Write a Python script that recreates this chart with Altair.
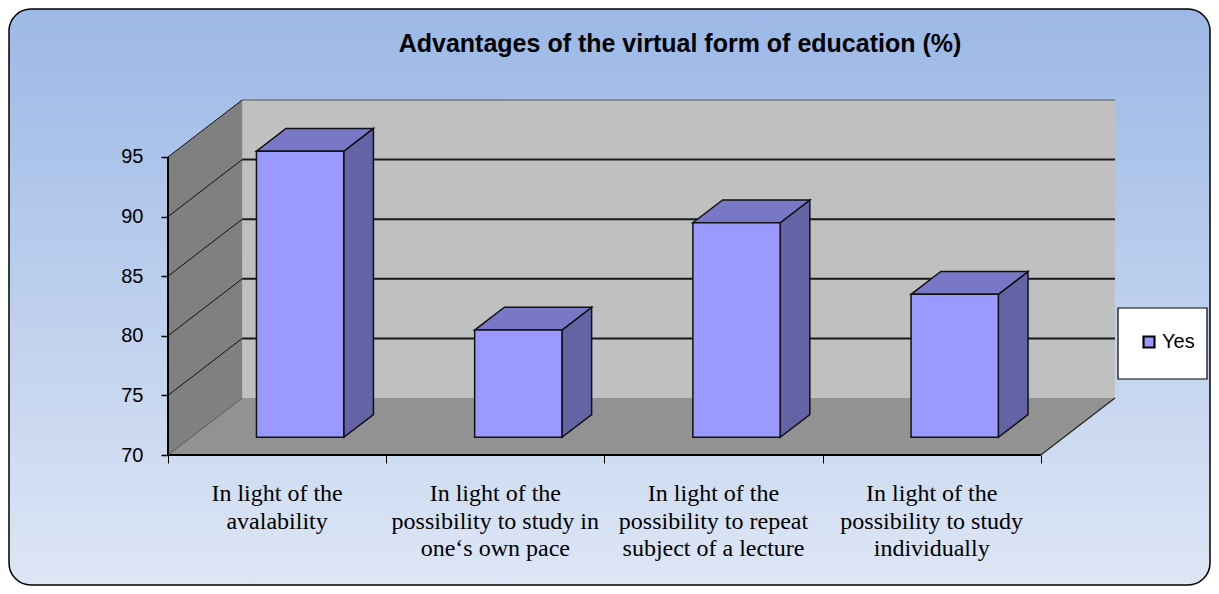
import altair as alt
import pandas as pd

# ---- data ----
TITLE = "Advantages of the virtual form of education (%)"
categories = [
    "In light of the\navalability",
    "In light of the\npossibility to study in\none\u2018s own pace",
    "In light of the\npossibility to repeat\nsubject of a lecture",
    "In light of the\npossibility to study\nindividually",
]
values = [94, 79, 88, 82]
series_name = "Yes"
y_ticks = [70, 75, 80, 85, 90, 95]

# ---- 3D styling constants ----
BASE, TOP = 70, 95
DX, DY = 0.34, 4.78       # depth offset in x-units / y-units
F, B = 0.31, 0.71         # bar front / back depth fraction
HALF = 0.2                # half bar width (category units)
N = len(categories)

W, H = 947, 355
xs = alt.Scale(domain=[0, N + DX], nice=False, zero=False)
ys = alt.Scale(domain=[BASE, TOP + DY], nice=False, zero=False)
xaxis = alt.Axis(values=list(range(N + 1)), labels=False, domain=False, grid=False,
                 ticks=True, tickSize=8, tickColor="black", tickWidth=1, title=None, zindex=2)
yaxis = alt.Axis(values=y_ticks, domain=False, grid=False, tickSize=7, tickColor="black",
                 tickWidth=1.5, labelFont="Liberation Sans", labelFontSize=20,
                 labelColor="black", labelPadding=18, title=None, zindex=2)


def X(f):
    return alt.X(f, type="quantitative", scale=xs, axis=xaxis)


def Y(f):
    return alt.Y(f, type="quantitative", scale=ys, axis=yaxis)


# ---- derived geometry tables ----
front_rows, top_rows, side_rows, lab_rows = [], [], [], []
for i, (c, v) in enumerate(zip(categories, values)):
    cx = i + 0.5
    x1f, x2f = cx - HALF + F * DX, cx + HALF + F * DX
    x1b, x2b = cx - HALF + B * DX, cx + HALF + B * DX
    fy, by = F * DY, B * DY
    front_rows.append(dict(bar=i, x=x1f, x2=x2f, y=BASE + fy, y2=v + fy, series=series_name))
    top_rows += [dict(bar=i, y=v + fy, x=x1f, x2=x2f), dict(bar=i, y=v + by, x=x1b, x2=x2b)]
    side_rows += [dict(bar=i, x=x2f, y=v + fy, y2=BASE + fy), dict(bar=i, x=x2b, y=v + by, y2=BASE + by)]
    lab_rows.append(dict(x=cx, y=BASE, label=c))

front_df = pd.DataFrame(front_rows)
top_df = pd.DataFrame(top_rows)
side_df = pd.DataFrame(side_rows)
lab_df = pd.DataFrame(lab_rows)

back_df = pd.DataFrame({"x": [DX], "x2": [N + DX], "y": [BASE + DY], "y2": [TOP + DY]})
floor_df = pd.DataFrame({"y": [BASE, BASE + DY], "x": [0, DX], "x2": [N, N + DX]})
left_df = pd.DataFrame({"x": [0, DX], "y": [BASE, BASE + DY], "y2": [TOP, TOP + DY]})
grid_back = pd.DataFrame({"v": y_ticks[1:-1]})
grid_back["y"] = grid_back["v"] + DY
grid_back["x"] = DX
grid_back["x2"] = N + DX
grid_left = pd.DataFrame({"v": y_ticks[1:]})
grid_left["y2"] = grid_left["v"] + DY
grid_left["x"] = 0
grid_left["x2"] = DX
edges = pd.DataFrame([
    dict(x=0, x2=N, y=BASE, y2=BASE, w=2.0, c="#000000"),
    dict(x=N, x2=N + DX, y=BASE, y2=BASE + DY, w=1.2, c="#222222"),
    dict(x=0, x2=0, y=BASE, y2=TOP, w=2.0, c="#000000"),
    dict(x=DX, x2=N + DX, y=TOP + DY, y2=TOP + DY, w=1.0, c="#555555"),
    dict(x=0, x2=DX, y=BASE, y2=BASE + DY, w=1.0, c="#555555"),
])

# ---- background frame ----
bg = alt.Chart(pd.DataFrame({"a": [0]})).mark_rect(
    cornerRadius=22, stroke="black", strokeWidth=1.5,
    color=alt.Gradient(gradient="linear", x1=0, x2=0, y1=0, y2=1,
                       stops=[alt.GradientStop(color="#9CB8E6", offset=0),
                              alt.GradientStop(color="#DDE6F5", offset=1)]),
).encode(x=alt.value(-159), x2=alt.value(W + 95), y=alt.value(-91), y2=alt.value(H + 130))

legend_box = alt.Chart(pd.DataFrame({"a": [0]})).mark_rect(
    fill="white", stroke="black", strokeWidth=1.2).encode(
    x=alt.value(950), x2=alt.value(1039), y=alt.value(208), y2=alt.value(279))

back = alt.Chart(back_df).mark_rect(color="#C0C0C0").encode(
    x=X("x"), x2="x2", y=Y("y"), y2="y2")
floor = alt.Chart(floor_df).mark_area(orient="horizontal", color="#929292").encode(
    y=Y("y"), x=X("x"), x2="x2")
left = alt.Chart(left_df).mark_area(orient="vertical", color="#808080").encode(
    x=X("x"), y=Y("y"), y2="y2")
gb = alt.Chart(grid_back).mark_rule(color="#1A1A1A", strokeWidth=2).encode(
    x=X("x"), x2="x2", y=Y("y"))
gl = alt.Chart(grid_left).mark_rule(color="#111111", strokeWidth=1).encode(
    x=X("x"), x2="x2", y=Y("v"), y2="y2")
ed = alt.Chart(edges).mark_rule().encode(
    x=X("x"), x2="x2", y=Y("y"), y2="y2",
    strokeWidth=alt.StrokeWidth("w:Q", scale=None, legend=None),
    stroke=alt.Stroke("c:N", scale=None, legend=None))

side = alt.Chart(side_df).mark_area(orient="vertical", color="#6363A5", stroke="#111111",
                                    strokeWidth=1.5).encode(
    x=X("x"), y=Y("y"), y2="y2", detail="bar:N")
top = alt.Chart(top_df).mark_area(orient="horizontal", color="#7878C6", stroke="#111111",
                                  strokeWidth=1.5).encode(
    y=Y("y"), x=X("x"), x2="x2", detail="bar:N")
front = alt.Chart(front_df).mark_rect(stroke="#111111", strokeWidth=1.5).encode(
    x=X("x"), x2="x2", y=Y("y"), y2="y2",
    color=alt.Color("series:N", scale=alt.Scale(domain=[series_name], range=["#9999FF"]),
                    legend=alt.Legend(orient="none", legendX=971, legendY=232, title=None,
                                      padding=0, symbolType="square", symbolSize=120,
                                      symbolStrokeColor="black", symbolStrokeWidth=2.2,
                                      labelFont="Liberation Sans", labelFontSize=20,
                                      labelColor="black", labelOffset=3, zindex=3)))

labels = alt.Chart(lab_df).mark_text(
    baseline="top", align="center", lineBreak="\n", font="Liberation Serif",
    fontSize=24, lineHeight=27.5, dy=27, color="black").encode(
    x=X("x"), y=Y("y"), text="label:N")

title = alt.Chart(pd.DataFrame({"t": [TITLE]})).mark_text(
    font="Liberation Sans", fontSize=25, fontWeight="bold", color="black",
    align="center", baseline="alphabetic").encode(
    text="t:N", x=alt.value(512), y=alt.value(-48))

chart = alt.layer(bg, legend_box, back, floor, left, gb, gl, ed, side, top, front,
                  labels, title).properties(
    width=W, height=H,
    padding={"left": 160, "top": 92, "right": 96, "bottom": 131},
    autosize=alt.AutoSizeParams(type="none"),
).configure_view(stroke=None).configure(background="white")

chart.save("out.html", embed_options={"renderer": "svg", "actions": False})
